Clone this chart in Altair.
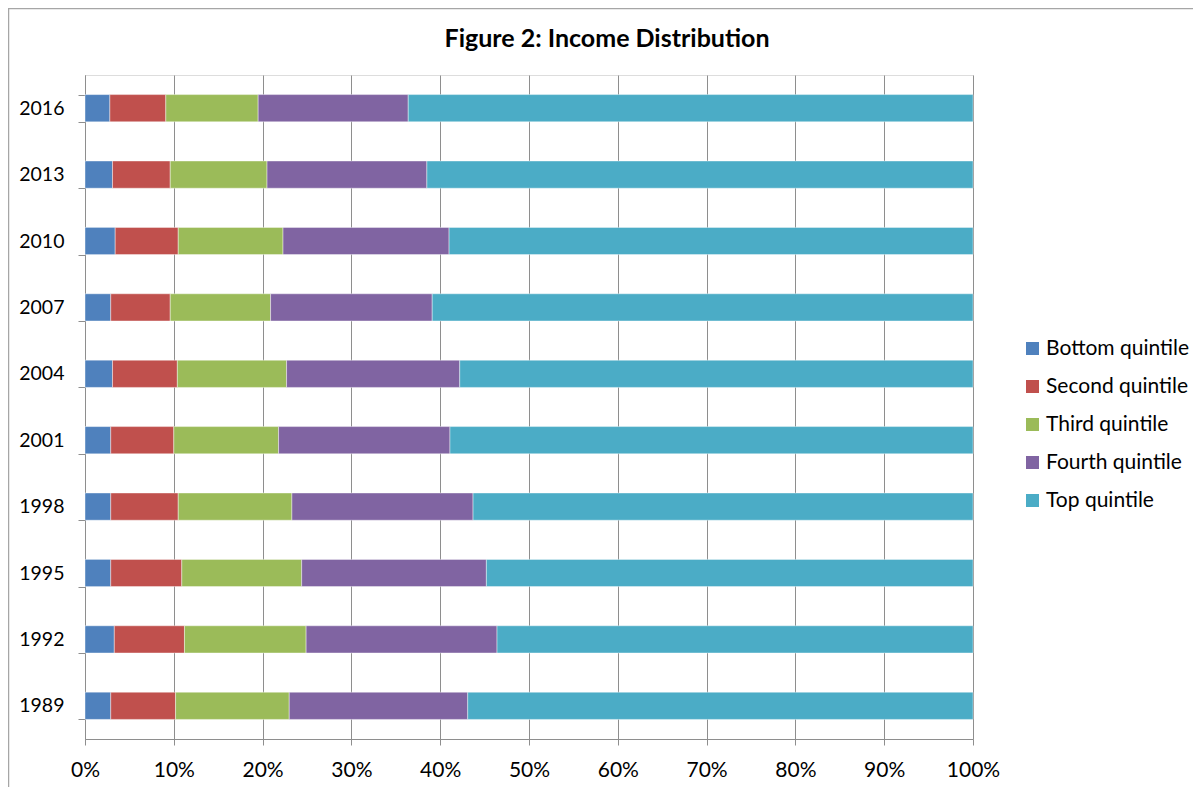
import altair as alt
import pandas as pd

title_text = ["Figure 2: Income Distribution"]
years = ["1989", "1992", "1995", "1998", "2001", "2004", "2007", "2010", "2013", "2016"]
series = ["Bottom quintile", "Second quintile", "Third quintile", "Fourth quintile", "Top quintile"]
bottom = [2.9, 3.3, 2.9, 2.9, 2.9, 3.1, 2.9, 3.4, 3.1, 2.8]
second = [7.3, 7.9, 8.0, 7.6, 7.1, 7.3, 6.7, 7.1, 6.5, 6.3]
third = [12.8, 13.7, 13.5, 12.8, 11.8, 12.3, 11.3, 11.8, 10.9, 10.4]
fourth = [20.1, 21.5, 20.8, 20.4, 19.3, 19.5, 18.2, 18.7, 18.0, 16.9]
top = [56.9, 53.6, 54.8, 56.3, 58.9, 57.8, 60.9, 59.0, 61.5, 63.6]
colors = ["#4F81BD", "#C0504D", "#9BBB59", "#8064A2", "#4BACC6"]
x_ticks = [0, 0.1, 0.2, 0.3, 0.4, 0.5, 0.6, 0.7, 0.8, 0.9, 1.0]

rows = []
for i, y in enumerate(years):
    for k, (name, vals) in enumerate(zip(series, [bottom, second, third, fourth, top])):
        rows.append({"year": y, "series": name, "order": k, "share": vals[i] / 100.0})
df = pd.DataFrame(rows)

FONT = "Lato"
GRID = "#8e8e8e"

bars = alt.Chart(df).mark_bar(stroke="#ffffff", strokeWidth=0.6, strokeOpacity=0.7).encode(
    x=alt.X(
        "share:Q",
        stack="zero",
        scale=alt.Scale(domain=[0, 1], nice=False),
        axis=alt.Axis(
            values=x_ticks, format=".0%", title=None, grid=True, gridColor=GRID,
            gridWidth=1, domainColor=GRID, tickColor=GRID, tickSize=6,
            labelFontSize=21, labelColor="#000000", labelFont=FONT, labelPadding=14,
            labelFlush=False,
        ),
    ),
    y=alt.Y(
        "year:N",
        sort=list(reversed(years)),
        scale=alt.Scale(paddingInner=0.59, paddingOuter=0.295),
        axis=alt.Axis(
            title=None, tickBand="extent", tickSize=7, tickColor=GRID, domainColor=GRID,
            labelFontSize=19.5, labelColor="#000000", labelFont=FONT, labelPadding=14,
            grid=False,
        ),
    ),
    color=alt.Color(
        "series:N",
        scale=alt.Scale(domain=series, range=colors),
        legend=alt.Legend(
            title=None, orient="none", legendX=937, legendY=263, symbolType="square",
            symbolSize=169, symbolStrokeWidth=0, labelFontSize=21, labelFont=FONT,
            labelColor="#000000", rowPadding=16, labelOffset=3,
        ),
    ),
    order=alt.Order("order:Q"),
)

title_df = pd.DataFrame({"t": title_text})
title_mark = alt.Chart(title_df).mark_text(
    font=FONT, fontSize=25, fontWeight="bold", color="#000000",
    align="center", baseline="alphabetic",
).encode(text="t:N", x=alt.value(522), y=alt.value(-28.5))

frame_top = alt.Chart(alt.Data(values=[{}])).mark_rule(color="#a6a6a6", strokeWidth=1.5).encode(
    x=alt.value(-77), x2=alt.value(1120), y=alt.value(-66.5)
)
frame_left = alt.Chart(alt.Data(values=[{}])).mark_rule(color="#a6a6a6", strokeWidth=1.5).encode(
    x=alt.value(-76.5), y=alt.value(-67), y2=alt.value(730)
)

chart = alt.layer(bars, title_mark, frame_top, frame_left).properties(
    width=888,
    height=664,
    autosize=alt.AutoSizeParams(type="none"),
    padding={"left": 77, "top": 67, "right": 220, "bottom": 48},
).configure_view(strokeWidth=0).configure(background="#ffffff")

chart.save("out.html", embed_options={"renderer": "svg", "actions": False})
